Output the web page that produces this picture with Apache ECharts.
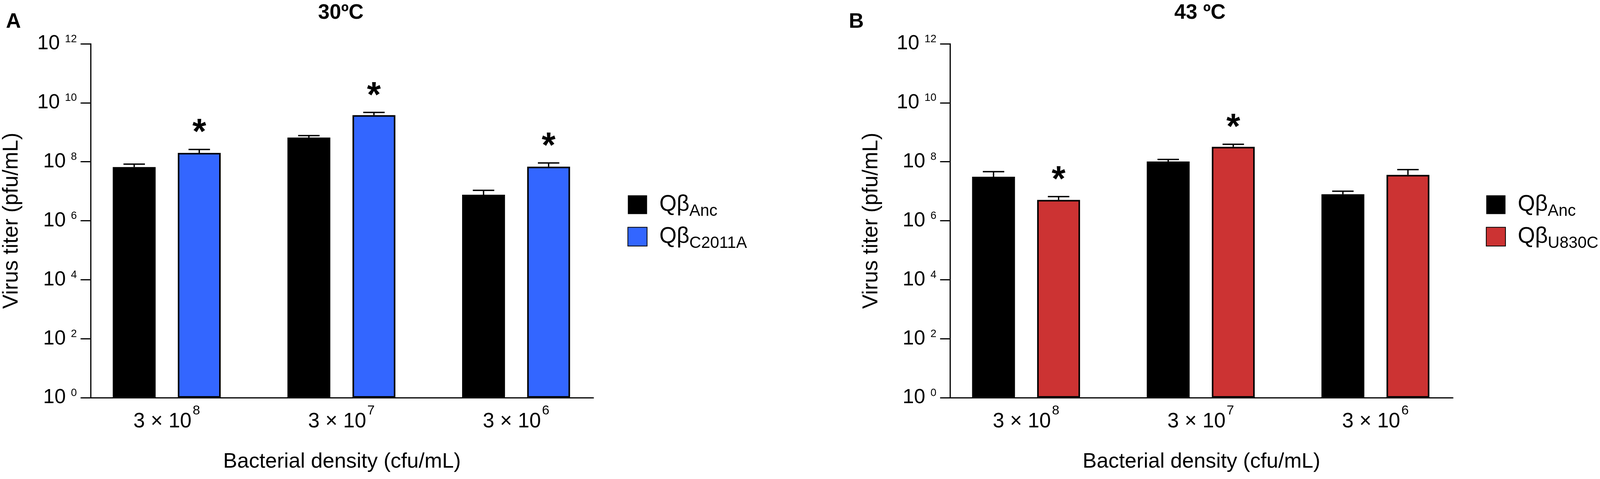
<!DOCTYPE html>
<html>
<head>
<meta charset="utf-8">
<script src="https://cdn.jsdelivr.net/npm/echarts@6/dist/echarts.min.js"></script>
<style>
html,body{margin:0;padding:0;background:#fff;overflow:hidden;}
#chart{width:100vw;height:100vh;}
</style>
</head>
<body>
<div id="chart"></div>
<script>
// bacterial densities on the x axis
var categories = ['3 × 10^8', '3 × 10^7', '3 × 10^6'];
// y axis ticks, as powers of ten
var yTickExp = [0, 2, 4, 6, 8, 10, 12];

// panel A, 30ºC
var ancA = [6.6e7, 6.6e8, 7.6e6];
var ancAErr = [1.7e7, 1.1e8, 3.1e6];
var mutA = [2.0e8, 3.8e9, 6.8e7];
var mutAErr = [6.0e7, 9.0e8, 2.3e7];
var sigA = [1, 1, 1];

// panel B, 43 ºC
var ancB = [3.1e7, 1.02e8, 7.9e6];
var ancBErr = [1.5e7, 1.8e7, 2.1e6];
var mutB = [5.1e6, 3.2e8, 3.6e7];
var mutBErr = [1.5e6, 7.0e7, 1.8e7];
var sigB = [1, 1, 0];

var FONT = '"Liberation Sans", Arial, Helvetica, sans-serif';
var BLUE = '#3366ff';
var RED = '#cc3333';

// layout was measured on a 4328 x 1225 page; scale to whatever we really get
var dom = document.getElementById('chart');
var sx = dom.clientWidth / 4328;
var sy = dom.clientHeight / 1225;
var sf = Math.min(sx, sy);
function X(v) { return v * sx; }
function Y(v) { return v * sy; }
function F(v) { return v * sf; }

var BAR_W = X(116);
var BAR_GAP = X(60);
var CAP_W = X(58);

var yMin = Math.pow(10, yTickExp[0]);
var yMax = Math.pow(10, yTickExp[yTickExp.length - 1]);

function grid(left, width) {
    return {left: X(left), top: Y(112), width: X(width), height: Y(905), outerBoundsMode: 'none'};
}

function shownY(gi) {
    return {
        type: 'log', logBase: 100, gridIndex: gi, min: yMin, max: yMax,
        name: 'Virus titer (pfu/mL)', nameLocation: 'middle', nameGap: X(183),
        nameTextStyle: {fontSize: F(58), lineHeight: F(60), color: '#000', fontFamily: FONT},
        axisLine: {show: true, lineStyle: {color: '#000', width: 3}},
        axisTick: {show: true, length: X(27), lineStyle: {color: '#000', width: 3}},
        splitLine: {show: false},
        axisLabel: {
            margin: X(37), color: '#000', fontFamily: FONT,
            formatter: function (v) {
                return '{b|10}{s|' + Math.round(Math.log10(v)) + '}';
            },
            rich: {
                b: {fontSize: F(55), lineHeight: F(54), color: '#000', fontFamily: FONT},
                s: {fontSize: F(29), lineHeight: F(44), verticalAlign: 'top', padding: [0, 0, 0, X(14)], color: '#000', fontFamily: FONT}
            }
        }
    };
}

function hiddenY(gi) {
    return {type: 'log', logBase: 100, gridIndex: gi, min: yMin, max: yMax, show: false};
}

function lineX(gi) {
    return {
        type: 'value', gridIndex: gi, min: 0, max: 1,
        name: 'Bacterial density (cfu/mL)', nameLocation: 'middle', nameGap: Y(136),
        nameTextStyle: {fontSize: F(57), lineHeight: F(60), color: '#000', fontFamily: FONT},
        axisLine: {show: true, onZero: false, lineStyle: {color: '#000', width: 3}},
        axisTick: {show: false}, axisLabel: {show: false}, splitLine: {show: false}
    };
}

function catX(gi) {
    return {
        type: 'category', gridIndex: gi, data: categories,
        axisLine: {show: false}, axisTick: {show: false},
        axisLabel: {
            margin: Y(17), color: '#000', interval: 0,
            formatter: function (v) {
                var p = v.split('^');
                return '{b|' + p[0] + '}{s|' + p[1] + '}';
            },
            rich: {
                b: {fontSize: F(56), lineHeight: F(94), color: '#000', fontFamily: FONT},
                s: {fontSize: F(36), lineHeight: F(27), verticalAlign: 'top', padding: [0, 0, 0, X(3)], color: '#000', fontFamily: FONT}
            }
        }
    };
}

function bars(name, axis, data, color) {
    return {
        type: 'bar', name: name, xAxisIndex: axis, yAxisIndex: axis, data: data,
        barWidth: BAR_W, barGap: (BAR_GAP / BAR_W * 100) + '%',
        itemStyle: {color: color, borderColor: '#000', borderWidth: color === '#000' ? 0 : 4},
        emphasis: {disabled: true}
    };
}

function errors(axis, vals, errs, offset) {
    return {
        type: 'custom', xAxisIndex: axis, yAxisIndex: axis, silent: true, z: 3, clip: false,
        data: vals.map(function (v, i) { return [i, v, v + errs[i]]; }),
        renderItem: function (params, api) {
            var base = api.coord([api.value(0), api.value(1)]);
            var top = api.coord([api.value(0), api.value(2)]);
            var x = base[0] + offset;
            var st = {stroke: '#000', lineWidth: 3.5};
            return {type: 'group', children: [
                {type: 'line', shape: {x1: x, y1: base[1], x2: x, y2: top[1]}, style: st},
                {type: 'line', shape: {x1: x - CAP_W / 2, y1: top[1], x2: x + CAP_W / 2, y2: top[1]}, style: st}
            ]};
        }
    };
}

function stars(axis, vals, errs, sig, offset) {
    var d = [];
    vals.forEach(function (v, i) { if (sig[i]) d.push([i, v + errs[i]]); });
    return {
        type: 'custom', xAxisIndex: axis, yAxisIndex: axis, silent: true, z: 3, clip: false,
        data: d,
        renderItem: function (params, api) {
            var p = api.coord([api.value(0), api.value(1)]);
            return {type: 'text', x: p[0] + offset, y: p[1] - Y(40), style: {
                text: '*', font: 'bold ' + F(96) + 'px ' + FONT, fill: '#000',
                textAlign: 'center', textVerticalAlign: 'middle'
            }};
        }
    };
}

function legend(left, names) {
    return {
        left: X(left), top: Y(490), orient: 'vertical', icon: 'rect', align: 'left',
        itemWidth: X(52), itemHeight: Y(48), itemGap: Y(15), selectedMode: false,
        data: names,
        formatter: function (n) {
            var p = n.split('_');
            return '{q|' + p[0] + '}{s|' + p[1] + '}';
        },
        textStyle: {
            color: '#000', fontFamily: FONT, fontSize: F(60),
            rich: {
                q: {fontSize: F(60), lineHeight: F(60), padding: [0, 0, 0, X(28)], color: '#000', fontFamily: FONT},
                s: {fontSize: F(44), lineHeight: F(20), verticalAlign: 'top', padding: [F(26), 0, 0, 0], color: '#000', fontFamily: FONT}
            }
        }
    };
}

function label(text, x, y, align) {
    return {type: 'text', x: X(x), y: Y(y), style: {
        text: text, font: 'bold ' + F(56) + 'px ' + FONT, fill: '#000',
        textAlign: align, textVerticalAlign: 'middle'
    }};
}

var half = (BAR_W + BAR_GAP) / 2;

var chart = echarts.init(dom);
chart.setOption({
    backgroundColor: '#fff',
    animation: false,
    grid: [grid(245, 1360), grid(214.75, 1417.5), grid(2570, 1360), grid(2539.25, 1417.5)],
    xAxis: [lineX(0), catX(1), lineX(2), catX(3)],
    yAxis: [shownY(0), hiddenY(1), shownY(2), hiddenY(3)],
    legend: [legend(1692, ['Qβ_Anc', 'Qβ_C2011A']), legend(4014, ['Qβ_Anc', 'Qβ_U830C'])],
    graphic: [
        label('A', 16, 56, 'left'),
        label('30ºC', 922, 33, 'center'),
        label('B', 2296, 56, 'left'),
        label('43 ºC', 3246, 33, 'center')
    ],
    series: [
        bars('Qβ_Anc', 1, ancA, '#000'),
        bars('Qβ_C2011A', 1, mutA, BLUE),
        bars('Qβ_Anc', 3, ancB, '#000'),
        bars('Qβ_U830C', 3, mutB, RED),
        errors(1, ancA, ancAErr, -half),
        errors(1, mutA, mutAErr, half),
        errors(3, ancB, ancBErr, -half),
        errors(3, mutB, mutBErr, half),
        stars(1, mutA, mutAErr, sigA, half),
        stars(3, mutB, mutBErr, sigB, half)
    ]
});
</script>
</body>
</html>
